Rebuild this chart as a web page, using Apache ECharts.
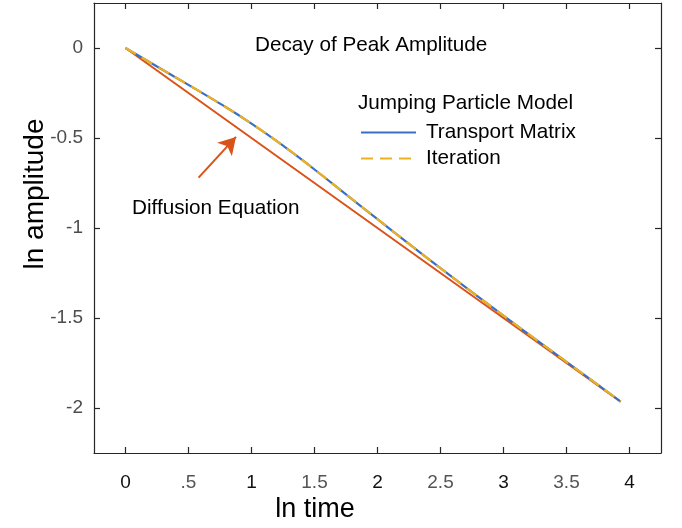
<!DOCTYPE html>
<html>
<head>
<meta charset="utf-8">
<script src="https://cdn.jsdelivr.net/npm/echarts@6/dist/echarts.min.js"></script>
<style>html,body{margin:0;padding:0;background:#fff}#c{width:682px;height:528px}</style>
</head>
<body>
<div id="c"></div>
<script>
// ---- data ----
var xTicks = [0, 0.5, 1, 1.5, 2, 2.5, 3, 3.5, 4];
var xTickLabels = ['0', '.5', '1', '1.5', '2', '2.5', '3', '3.5', '4'];
var yTicks = [-2, -1.5, -1, -0.5, 0];
var yTickLabels = ['-2', '-1.5', '-1', '-0.5', '0'];
var diffusionX = [0, 3.93];
var diffusionY = [0, -1.965];
var jumpX = [0, 0.25, 0.5, 0.75, 1.0, 1.25, 1.5, 1.75, 2.0, 2.25, 2.5, 2.75, 3.0, 3.25, 3.5, 3.75, 3.93];
var transportY = [0, -0.103, -0.205, -0.309, -0.42, -0.542, -0.675, -0.813, -0.951, -1.088, -1.223, -1.356, -1.487, -1.616, -1.744, -1.872, -1.964];
var iterationY = [0, -0.103, -0.205, -0.309, -0.42, -0.542, -0.675, -0.813, -0.951, -1.088, -1.223, -1.356, -1.487, -1.616, -1.744, -1.872, -1.964];
var arrowFrom = [0.58, -0.72];
var arrowTo = [0.877, -0.494];

function zip(xs, ys) { return xs.map(function (x, i) { return [x, ys[i]]; }); }

var FONT = 'Liberation Sans, Arial, Helvetica, sans-serif';
var AX = '#262626';
var BLUE = '#3a6fc6', ORANGE = '#D95319', YELLOW = '#EDB120';

var chart = echarts.init(document.getElementById('c'), null, { renderer: 'canvas' });

var baseX = {
  type: 'value', min: -0.25, max: 4.25, interval: 0.5,
  splitLine: { show: false },
  axisLine: { show: true, onZero: false, lineStyle: { color: AX, width: 1.2 } },
  axisTick: { show: true, inside: true, length: 6, lineStyle: { color: AX, width: 1.2 },
    customValues: xTicks }
};
var baseY = {
  type: 'value', min: -2.25, max: 0.25, interval: 0.5,
  splitLine: { show: false },
  axisLine: { show: true, onZero: false, lineStyle: { color: AX, width: 1.2 } },
  axisTick: { show: true, inside: true, length: 6, lineStyle: { color: AX, width: 1.2 },
    customValues: yTicks }
};

var TXT = { fontFamily: FONT, fontSize: 20.7, fontWeight: 'normal', color: '#000' };

var option = {
  backgroundColor: '#fff',
  animation: false,
  textStyle: { fontFamily: FONT },
  grid: { left: 94, right: 21, top: 3, bottom: 75, containLabel: false },
  title: [
    { text: 'Decay of Peak Amplitude', left: 255, top: 35, padding: 0, textStyle: TXT },
    { text: 'Jumping Particle Model', left: 358, top: 93, padding: 0, textStyle: TXT },
    { text: 'Diffusion Equation', left: 132, top: 198, padding: 0, textStyle: TXT }
  ],
  graphic: [
    { type: 'text', x: 315, y: 510, style: { text: 'ln time', font: '27px ' + FONT, fill: '#000',
      align: 'center', verticalAlign: 'middle' } },
    { type: 'text', x: 35, y: 194, rotation: Math.PI / 2, style: { text: 'ln amplitude', font: '28px ' + FONT,
      fill: '#000', align: 'center', verticalAlign: 'middle' } }
  ],
  legend: {
    orient: 'vertical', left: 360, top: 122, itemWidth: 55, itemHeight: 14, itemGap: 5, padding: 0,
    data: ['Transport Matrix', 'Iteration'],
    itemStyle: { opacity: 0 },
    textStyle: { fontFamily: FONT, fontSize: 20.7, color: '#000', padding: [0, 0, 0, 5] }
  },
  xAxis: [
    Object.assign({}, baseX, {
      position: 'bottom',
      axisLabel: {
        show: true, margin: 20, fontSize: 19, fontFamily: FONT,
        customValues: xTicks,
        formatter: function (v) {
          var i = xTicks.indexOf(v);
          var t = i >= 0 ? xTickLabels[i] : '';
          return (Math.abs(v - Math.round(v)) < 1e-9) ? '{k|' + t + '}' : '{g|' + t + '}';
        },
        rich: { k: { color: '#111', fontSize: 19, fontFamily: FONT },
                g: { color: '#555', fontSize: 19, fontFamily: FONT } }
      }
    }),
    Object.assign({}, baseX, { position: 'top', axisLabel: { show: false } })
  ],
  yAxis: [
    Object.assign({}, baseY, {
      position: 'left',
      axisLabel: {
        show: true, margin: 11, fontSize: 19, color: '#4d4d4d', fontFamily: FONT,
        customValues: yTicks,
        formatter: function (v) {
          var i = yTicks.indexOf(v);
          return i >= 0 ? yTickLabels[i] : '';
        }
      }
    }),
    Object.assign({}, baseY, { position: 'right', axisLabel: { show: false } })
  ],
  series: [
    {
      name: 'Diffusion Equation', type: 'line', xAxisIndex: 0, yAxisIndex: 0,
      data: zip(diffusionX, diffusionY), showSymbol: false, symbol: 'none',
      lineStyle: { color: ORANGE, width: 2 }, itemStyle: { color: ORANGE },
      z: 2,
      markLine: {
        silent: true, symbol: ['none', 'arrow'], symbolSize: [15, 17],
        label: { show: false },
        lineStyle: { color: ORANGE, width: 2, type: 'solid' },
        data: [[{ coord: arrowFrom }, { coord: arrowTo }]]
      }
    },
    {
      name: 'Transport Matrix', type: 'line', xAxisIndex: 0, yAxisIndex: 0,
      data: zip(jumpX, transportY), showSymbol: false, symbol: 'none', smooth: 0.5,
      lineStyle: { color: BLUE, width: 2.2 }, itemStyle: { color: BLUE }, z: 3
    },
    {
      name: 'Iteration', type: 'line', xAxisIndex: 0, yAxisIndex: 0,
      data: zip(jumpX, iterationY), showSymbol: false, symbol: 'none', smooth: 0.5,
      lineStyle: { color: YELLOW, width: 2.2, type: [12, 7] }, itemStyle: { color: YELLOW }, z: 4
    }
  ]
};
chart.setOption(option);
</script>
</body>
</html>
